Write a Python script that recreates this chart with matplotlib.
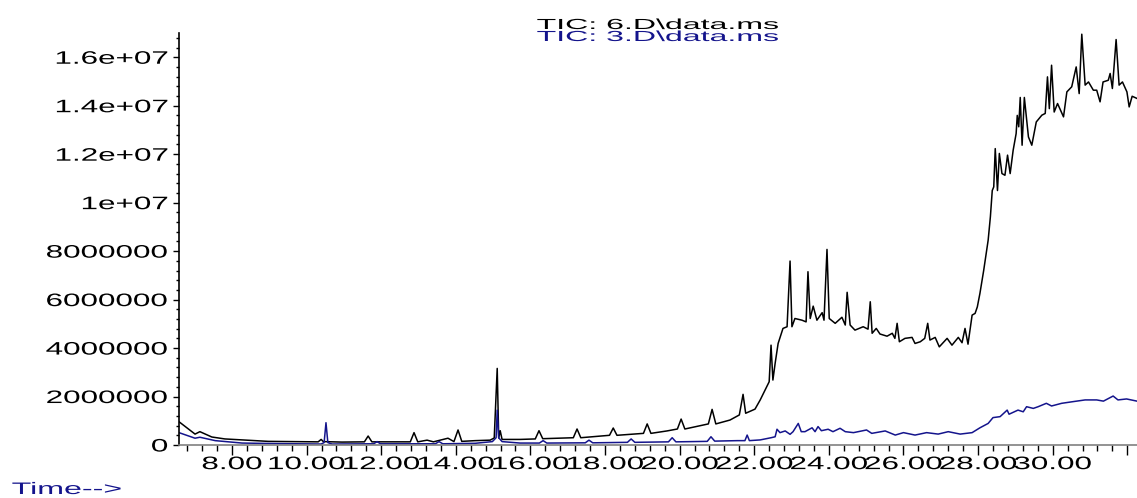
import numpy as np
import matplotlib
matplotlib.use('Agg')
import matplotlib.pyplot as plt
from matplotlib.patheffects import AbstractPathEffect
from matplotlib.transforms import Affine2D
from matplotlib.ticker import MultipleLocator

plt.rcParams['font.family'] = 'Liberation Sans'

# TIC of 6.D: retention time (min), abundance (x1e6 counts)
t_6D = [6.58, 7.01, 7.14, 7.46, 7.81, 8.27, 8.97, 9.61, 10.31, 10.39, 10.45,
        10.95, 11.55, 11.65, 11.75, 12.78, 12.88, 12.98, 13.23, 13.40, 13.79,
        13.95, 14.06, 14.16, 14.52, 14.92, 15.03, 15.11, 15.15, 15.19, 15.24,
        15.72, 16.13, 16.23, 16.33, 16.71, 17.15, 17.25, 17.35, 18.12, 18.22,
        18.32, 19.03, 19.13, 19.23, 19.66, 19.94, 20.04, 20.14, 20.63, 20.77,
        20.87, 20.97, 21.35, 21.60, 21.70, 21.77, 22.02, 22.16, 22.29, 22.40,
        22.45, 22.50, 22.56, 22.64, 22.77, 22.88, 22.96, 23.01, 23.09, 23.28,
        23.39, 23.44, 23.50, 23.58, 23.68, 23.82, 23.87, 23.95, 24.01, 24.17,
        24.35, 24.44, 24.49, 24.57, 24.70, 24.92, 25.05, 25.11, 25.16, 25.27,
        25.37, 25.56, 25.70, 25.77, 25.83, 25.89, 26.04, 26.23, 26.31, 26.45,
        26.57, 26.65, 26.71, 26.85, 26.96, 27.17, 27.30, 27.47, 27.57, 27.65,
        27.73, 27.84, 27.92, 27.98, 28.05, 28.15, 28.27, 28.33, 28.38, 28.42,
        28.46, 28.52, 28.57, 28.64, 28.72, 28.79, 28.86, 28.94, 29.02, 29.05,
        29.09, 29.13, 29.18, 29.24, 29.35, 29.44, 29.56, 29.71, 29.80, 29.86,
        29.91, 29.97, 30.04, 30.13, 30.29, 30.38, 30.51, 30.63, 30.71, 30.78,
        30.87, 30.96, 31.09, 31.18, 31.27, 31.35, 31.49, 31.54, 31.60, 31.70,
        31.78, 31.87, 31.99, 32.05, 32.13, 32.26]
a_6D = [0.96, 0.45, 0.55, 0.33, 0.25, 0.21, 0.15, 0.14, 0.13, 0.23, 0.14,
        0.12, 0.13, 0.37, 0.13, 0.13, 0.51, 0.13, 0.20, 0.13, 0.28,
        0.14, 0.62, 0.15, 0.18, 0.20, 0.29, 3.16, 0.29, 0.59, 0.23,
        0.23, 0.25, 0.59, 0.26, 0.28, 0.30, 0.66, 0.30, 0.40, 0.70,
        0.40, 0.48, 0.87, 0.48, 0.58, 0.66, 1.07, 0.66, 0.82, 0.87,
        1.47, 0.87, 1.03, 1.24, 2.09, 1.31, 1.48, 1.86, 2.27, 2.61,
        4.12, 2.68, 3.37, 4.19, 4.81, 4.88, 7.59, 4.88, 5.22, 5.15,
        5.08, 7.15, 5.22, 5.73, 5.15, 5.46, 5.15, 8.07, 5.22, 5.02,
        5.27, 4.95, 6.30, 4.95, 4.74, 4.88, 4.78, 5.91, 4.61, 4.81,
        4.58, 4.49, 4.61, 4.40, 5.02, 4.26, 4.40, 4.44, 4.19, 4.26,
        4.40, 5.02, 4.33, 4.44, 4.05, 4.40, 4.12, 4.44, 4.22, 4.81,
        4.16, 5.36, 5.43, 5.70, 6.26, 7.20, 8.45, 9.42, 10.50, 10.65,
        12.23, 10.50, 12.03, 11.20, 11.13, 11.96, 11.20, 12.16, 12.85, 13.60,
        13.13, 14.34, 12.37, 14.34, 12.71, 12.37, 13.33, 13.61, 13.68, 15.19,
        13.88, 15.67, 13.74, 14.09, 13.54, 14.57, 14.78, 15.60, 14.50, 16.95,
        14.85, 14.98, 14.64, 14.64, 14.16, 14.98, 15.05, 15.33, 14.71, 16.73,
        14.85, 14.98, 14.57, 13.95, 14.39, 14.30]

# TIC of 3.D
t_3D = [6.58, 7.01, 7.14, 7.55, 8.27, 9.15, 10.39, 10.47, 10.52, 10.57, 10.68,
        11.80, 11.89, 11.98, 13.45, 13.55, 13.65, 14.52, 14.98, 15.08, 15.11,
        15.15, 15.24, 15.72, 16.24, 16.34, 16.44, 17.47, 17.57, 17.67, 18.60,
        18.70, 18.80, 19.70, 19.80, 19.90, 20.74, 20.84, 20.94, 21.55, 21.75,
        21.81, 21.87, 22.16, 22.45, 22.56, 22.61, 22.69, 22.83, 22.96, 23.04,
        23.18, 23.26, 23.36, 23.55, 23.63, 23.71, 23.80, 23.98, 24.11, 24.30,
        24.44, 24.66, 25.01, 25.15, 25.51, 25.78, 26.00, 26.31, 26.62, 26.93,
        27.20, 27.52, 27.84, 28.05, 28.27, 28.40, 28.59, 28.78, 28.83, 29.07,
        29.21, 29.30, 29.48, 29.61, 29.83, 29.97, 30.24, 30.55, 30.87, 31.18,
        31.36, 31.62, 31.75, 31.98, 32.26]
a_3D = [0.51, 0.28, 0.32, 0.18, 0.08, 0.06, 0.04, 0.10, 0.92, 0.10, 0.04,
        0.05, 0.14, 0.05, 0.05, 0.14, 0.05, 0.07, 0.14, 0.30, 1.44,
        0.30, 0.14, 0.08, 0.08, 0.18, 0.08, 0.09, 0.20, 0.09, 0.11,
        0.25, 0.11, 0.13, 0.30, 0.13, 0.15, 0.34, 0.16, 0.18, 0.18,
        0.41, 0.18, 0.21, 0.30, 0.34, 0.65, 0.51, 0.58, 0.44, 0.55,
        0.89, 0.55, 0.55, 0.71, 0.55, 0.76, 0.59, 0.65, 0.55, 0.69,
        0.55, 0.51, 0.62, 0.48, 0.58, 0.41, 0.51, 0.41, 0.51, 0.45,
        0.55, 0.45, 0.51, 0.71, 0.89, 1.13, 1.17, 1.44, 1.27, 1.44,
        1.37, 1.58, 1.51, 1.58, 1.72, 1.61, 1.72, 1.79, 1.86, 1.86,
        1.81, 2.02, 1.86, 1.90, 1.81]

x_ticks = [8, 10, 12, 14, 16, 18, 20, 22, 24, 26, 28, 30, 32]
x_labels = ['8.00', '10.00', '12.00', '14.00', '16.00', '18.00', '20.00',
            '22.00', '24.00', '26.00', '28.00', '30.00', '']
y_ticks = [0, 2e6, 4e6, 6e6, 8e6, 1e7, 1.2e7, 1.4e7, 1.6e7]
y_labels = ['0', '2000000', '4000000', '6000000', '8000000',
            '1e+07', '1.2e+07', '1.4e+07', '1.6e+07']

NAVY = '#14148c'


class Stretch(AbstractPathEffect):
    # widen the glyphs sideways; anchor 0/0.5/1 keeps left/centre/right fixed
    def __init__(self, sx, anchor=0.0):
        super().__init__()
        self.sx = sx
        self.anchor = anchor

    def draw_path(self, renderer, gc, tpath, affine, rgbFace=None):
        ext = tpath.get_extents()
        x0 = ext.x0 + self.anchor * ext.width
        wide = Affine2D().translate(-x0, 0).scale(self.sx, 1).translate(x0, 0)
        renderer.draw_path(gc, tpath, wide + affine, rgbFace)


fig = plt.figure(figsize=(11.37, 4.98), dpi=100)
ax = fig.add_axes([179 / 1137, 1 - 445 / 498, 1 - 179 / 1137, 412 / 498])

ax.plot(t_6D, np.array(a_6D) * 1e6, color='black', lw=1.1)
ax.plot(t_3D, np.array(a_3D) * 1e6, color=NAVY, lw=1.1)

ax.set_xlim(6.58, 32.26)
ax.set_ylim(0, 1.7e7)

for s in ['top', 'right']:
    ax.spines[s].set_visible(False)
ax.spines['left'].set_color('black')
ax.spines['left'].set_linewidth(1.2)
ax.spines['bottom'].set_color('#808080')
ax.spines['bottom'].set_linewidth(1.2)

ax.set_xticks(x_ticks, x_labels)
ax.set_yticks(y_ticks, y_labels)
ax.xaxis.set_minor_locator(MultipleLocator(0.4))
ax.yaxis.set_minor_locator(MultipleLocator(400000))

ax.tick_params(axis='x', which='major', direction='out', length=7, width=1,
               pad=1, labelsize=13)
ax.tick_params(axis='x', which='minor', direction='out', length=4, width=1)
ax.tick_params(axis='y', which='major', direction='out', length=4, width=1,
               pad=4, labelsize=13)
ax.tick_params(axis='y', which='minor', direction='out', length=2.5, width=1)

for tk in ax.xaxis.get_major_ticks():
    tk.label1.set_path_effects([Stretch(1.74, 0.5)])
for tk in ax.yaxis.get_major_ticks():
    tk.label1.set_path_effects([Stretch(1.74, 1.0)])

# two stacked data-file captions above the plot
fig.text(537 / 1137, 1 - 29 / 498, 'TIC: 6.D\\data.ms', color='black',
         fontsize=10.5, ha='left', va='baseline',
         path_effects=[Stretch(2.2, 0.0)])
fig.text(537 / 1137, 1 - 41 / 498, 'TIC: 3.D\\data.ms', color=NAVY,
         fontsize=10.5, ha='left', va='baseline',
         path_effects=[Stretch(2.2, 0.0)])
fig.text(12 / 1137, 1 - 494 / 498, 'Time-->', color=NAVY,
         fontsize=12, ha='left', va='baseline',
         path_effects=[Stretch(1.93, 0.0)])

fig.savefig('out.png', dpi=100)
